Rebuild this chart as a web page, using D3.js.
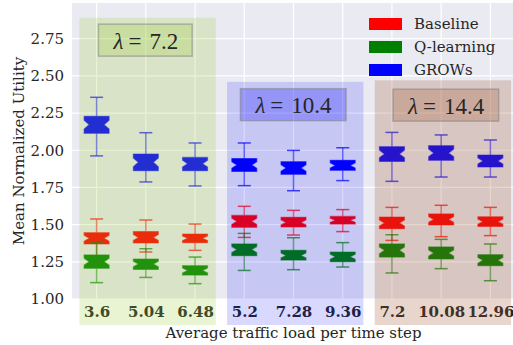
<!DOCTYPE html>
<html>
<head>
<meta charset="utf-8">
<script src="https://cdn.jsdelivr.net/npm/d3@7"></script>
<style>
  body { margin: 0; background: #fff; }
  text { font-family: "DejaVu Serif", serif; }
</style>
</head>
<body>
<div id="chart"></div>
<script>
// x categories (average traffic load per time step)
const loads = ["3.6", "5.04", "6.48", "5.2", "7.28", "9.36", "7.2", "10.08", "12.96"];
const lambdas = ["7.2", "10.4", "14.4"];
const seriesNames = ["Baseline", "Q-learning", "GROWs"];
const seriesColors = ["#ff0000", "#008000", "#0000ff"];

// [whisker low, q1, median, q3, whisker high]
const baseline = [
    [1.290, 1.370, 1.408, 1.446, 1.538],
    [1.316, 1.377, 1.414, 1.453, 1.531],
    [1.327, 1.379, 1.408, 1.437, 1.504],
    [1.414, 1.482, 1.522, 1.562, 1.623],
    [1.430, 1.484, 1.515, 1.549, 1.596],
    [1.453, 1.504, 1.529, 1.555, 1.601],
    [1.394, 1.473, 1.511, 1.551, 1.616],
    [1.419, 1.498, 1.535, 1.572, 1.630],
    [1.426, 1.488, 1.520, 1.553, 1.616]
];
const qlearning = [
    [1.110, 1.206, 1.251, 1.296, 1.383],
    [1.145, 1.199, 1.235, 1.269, 1.338],
    [1.103, 1.161, 1.192, 1.224, 1.282],
    [1.192, 1.291, 1.332, 1.370, 1.441],
    [1.197, 1.262, 1.293, 1.327, 1.412],
    [1.215, 1.251, 1.284, 1.316, 1.379],
    [1.175, 1.282, 1.327, 1.370, 1.432],
    [1.204, 1.269, 1.309, 1.350, 1.401],
    [1.123, 1.224, 1.260, 1.298, 1.370]
];
const grows = [
    [1.962, 2.114, 2.172, 2.228, 2.356],
    [1.787, 1.863, 1.919, 1.975, 2.118],
    [1.760, 1.863, 1.910, 1.952, 2.049],
    [1.762, 1.858, 1.901, 1.944, 2.049],
    [1.728, 1.838, 1.881, 1.923, 1.999],
    [1.796, 1.865, 1.898, 1.932, 2.017],
    [1.791, 1.925, 1.975, 2.024, 2.120],
    [1.820, 1.932, 1.982, 2.031, 2.103],
    [1.820, 1.888, 1.928, 1.968, 2.069]
];
const yTicks = [1.00, 1.25, 1.50, 1.75, 2.00, 2.25, 2.50, 2.75];

const width = 513, height = 345;
const plot = { left: 72, right: 515, top: 3, bottom: 299 };

const svg = d3.select("#chart").append("svg")
    .attr("width", width)
    .attr("height", height)
    .style("display", "block");

const x = d3.scaleLinear().domain([-0.5, 8.5]).range([plot.left, plot.right]);
const y = d3.scaleLinear().domain([1.0, 2.99]).range([plot.bottom, plot.top]);

svg.append("rect")
    .attr("x", plot.left).attr("y", plot.top)
    .attr("width", plot.right - plot.left).attr("height", plot.bottom - plot.top)
    .attr("fill", "#eaeaf2");

// grid
svg.append("g").selectAll("line").data(yTicks).join("line")
    .attr("x1", plot.left).attr("x2", plot.right)
    .attr("y1", d => y(d)).attr("y2", d => y(d))
    .attr("stroke", "#fff").attr("stroke-width", 1.2);
svg.append("g").selectAll("line").data(loads).join("line")
    .attr("x1", (d, i) => x(i)).attr("x2", (d, i) => x(i))
    .attr("y1", plot.top).attr("y2", plot.bottom)
    .attr("stroke", "#fff").attr("stroke-width", 1.2);

// axes
const yAxis = svg.append("g")
    .attr("transform", `translate(${plot.left},0)`)
    .call(d3.axisLeft(y).tickValues(yTicks).tickFormat(d3.format(".2f")).tickSize(0).tickPadding(8));
yAxis.select(".domain").remove();
yAxis.selectAll("text").style("font-size", "15px").attr("fill", "#262626");

const xAxis = svg.append("g")
    .attr("transform", `translate(0,${plot.bottom})`)
    .call(d3.axisBottom(x).tickValues(d3.range(loads.length)).tickFormat(i => loads[i]).tickSize(0).tickPadding(7));
xAxis.select(".domain").remove();
xAxis.selectAll("text")
    .style("font-size", "15px").style("font-weight", "bold")
    .attr("fill", "#262626");

svg.append("text")
    .attr("x", (plot.left + plot.right) / 2).attr("y", 338)
    .attr("text-anchor", "middle")
    .style("font-size", "15px").attr("fill", "#262626")
    .text("Average traffic load per time step");

svg.append("text")
    .attr("transform", `translate(24,${(plot.top + plot.bottom) / 2}) rotate(-90)`)
    .attr("text-anchor", "middle")
    .style("font-size", "15px").attr("fill", "#262626")
    .text("Mean Normalized Utility");

// boxes
const boxW = 25, capW = 13, indent = 5;
function notchPath(s, cx) {
    const [lo, q1, med, q3, hi] = s;
    const n = 1.57 * (q3 - q1) / Math.sqrt(36);
    const l = cx - boxW / 2, r = cx + boxW / 2;
    const pts = [
        [l, y(q1)], [l, y(med - n)], [l + indent, y(med)], [l, y(med + n)], [l, y(q3)],
        [r, y(q3)], [r, y(med + n)], [r - indent, y(med)], [r, y(med - n)], [r, y(q1)]
    ];
    return d3.line()(pts) + "Z";
}

[baseline, qlearning, grows].forEach((stats, k) => {
    const c = seriesColors[k];
    const g = svg.append("g");
    stats.forEach((s, i) => {
        const cx = x(i);
        g.append("line").attr("x1", cx).attr("x2", cx).attr("y1", y(s[0])).attr("y2", y(s[1]))
            .attr("stroke", c).attr("stroke-width", 1.5).attr("stroke-opacity", 0.55);
        g.append("line").attr("x1", cx).attr("x2", cx).attr("y1", y(s[3])).attr("y2", y(s[4]))
            .attr("stroke", c).attr("stroke-width", 1.5).attr("stroke-opacity", 0.55);
        [s[0], s[4]].forEach(v => {
            g.append("line").attr("x1", cx - capW / 2).attr("x2", cx + capW / 2)
                .attr("y1", y(v)).attr("y2", y(v))
                .attr("stroke", c).attr("stroke-width", 1.5).attr("stroke-opacity", 0.7);
        });
        g.append("path").attr("d", notchPath(s, cx))
            .attr("fill", c)
            .attr("stroke", c).attr("stroke-opacity", 0.5).attr("stroke-width", 1.2);
    });
});

// group spans drawn on top
const spanColors = ["yellowgreen", "blue", "sienna"];
const spanAlpha = [0.22, 0.15, 0.24];
const spanTop = [2.89, 2.46, 2.47];
const labelY = [2.737, 2.303, 2.30];
const labelX = [1, 4, 7.1];
lambdas.forEach((lam, gI) => {
    const x0 = x(gI * 3 - 0.35), x1 = x(gI * 3 + 2.42);
    svg.append("rect")
        .attr("x", x0).attr("y", y(spanTop[gI]))
        .attr("width", x1 - x0).attr("height", 325 - y(spanTop[gI]))
        .attr("fill", spanColors[gI]).attr("fill-opacity", spanAlpha[gI]);

    const t = svg.append("text")
        .attr("x", x(labelX[gI])).attr("y", y(labelY[gI]))
        .attr("text-anchor", "middle").attr("dominant-baseline", "central")
        .style("font-family", "'Liberation Serif', serif")
        .style("font-size", "23px").attr("fill", "#262626");
    t.append("tspan").style("font-style", "italic").text("λ");
    t.append("tspan").attr("dx", 5).text("=");
    t.append("tspan").attr("dx", 8).text(lam);
    const bb = t.node().getBBox();
    svg.insert("rect", () => t.node())
        .attr("x", bb.x - 14).attr("y", bb.y - 4)
        .attr("width", bb.width + 28).attr("height", bb.height + 7)
        .attr("fill", spanColors[gI]).attr("fill-opacity", 0.25)
        .attr("stroke", "#808080").attr("stroke-opacity", 0.5).attr("stroke-width", 1.5);
});

// legend
const legend = svg.append("g").attr("transform", "translate(369,24)");
seriesNames.forEach((name, i) => {
    legend.append("rect")
        .attr("x", 0).attr("y", i * 23 - 6)
        .attr("width", 33).attr("height", 12)
        .attr("fill", seriesColors[i]);
    legend.append("text")
        .attr("x", 45).attr("y", i * 23)
        .attr("dominant-baseline", "central")
        .style("font-size", "15px").attr("fill", "#262626")
        .text(name);
});
</script>
</body>
</html>
